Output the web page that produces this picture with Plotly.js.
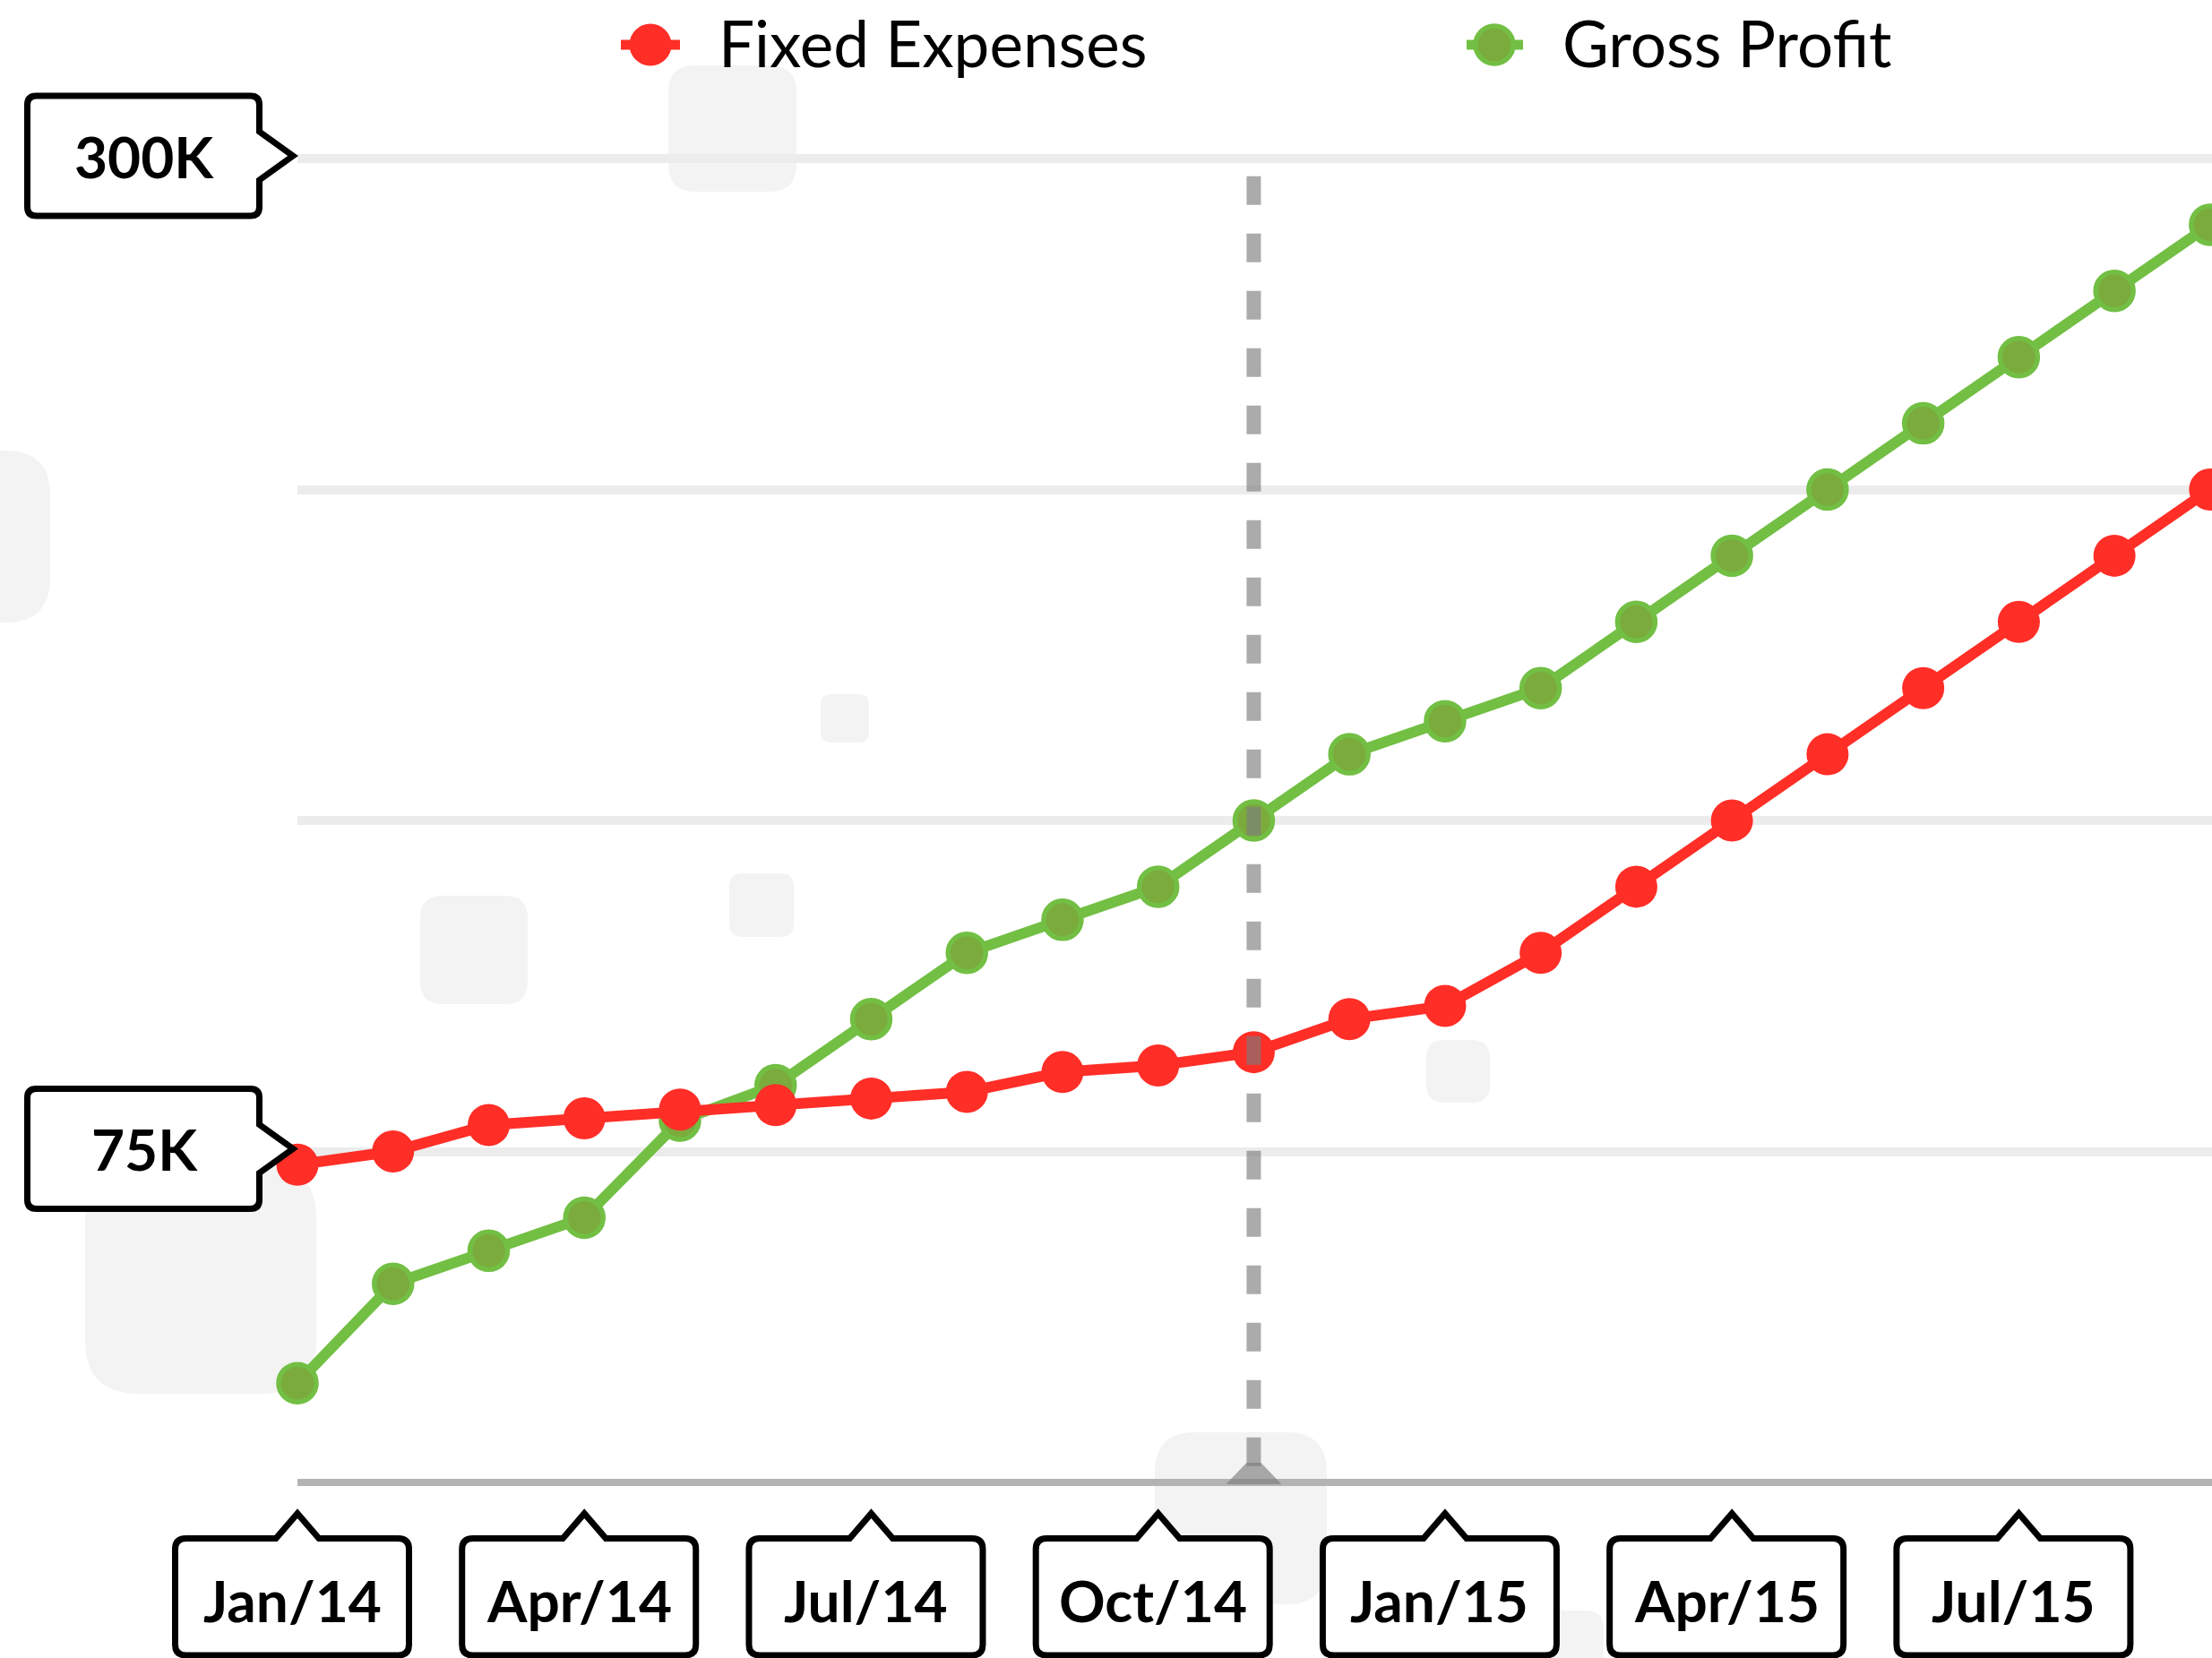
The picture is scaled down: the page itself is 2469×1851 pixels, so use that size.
<!DOCTYPE html>
<html>
<head>
<meta charset="utf-8">
<script src="https://cdn.plot.ly/plotly-3.0.1.min.js"></script>
<style>
html, body { margin: 0; padding: 0; background: #ffffff; }
#chart { width: 2469px; height: 1851px; }
</style>
</head>
<body>
<div id="chart"></div>
<script>
// ---------------- DATA ----------------
const months = ['Jan/14','Feb/14','Mar/14','Apr/14','May/14','Jun/14','Jul/14','Aug/14','Sep/14','Oct/14','Nov/14','Dec/14',
                'Jan/15','Feb/15','Mar/15','Apr/15','May/15','Jun/15','Jul/15','Aug/15','Sep/15'];
const fixedExpenses = [72, 75, 81, 82.5, 84.5, 85.5, 87, 88.5, 93, 94.5, 97.5, 105, 108, 120, 135, 150, 165, 180, 195, 210, 225];
const grossProfit   = [22.5, 45, 52.5, 60, 82, 90, 105, 120, 127.5, 135, 150, 165, 172.5, 180, 195, 210, 225, 240, 255, 270, 285];
const seriesNames = ['Fixed Expenses', 'Gross Profit'];
const xTickLabels = ['Jan/14','Apr/14','Jul/14','Oct/14','Jan/15','Apr/15','Jul/15'];
const yGridValues = [75, 150, 225, 300];
const yLabelValues = [300, 75];
const yLabelTexts = ['300K', '75K'];
const markerMonth = 'Nov/14';
const markerTop = 296;

// ---------------- GEOMETRY / STYLE ----------------
const FW = 2469, FH = 1851;
const M = { l: 332, r: 0, t: 167, b: 196 };
const PW = FW - M.l - M.r, PH = FH - M.t - M.b;
const B = FH - M.b;                 // plot bottom in page px
const XR = [0, 20.02];
const YR = [0, 302.03];
const RED = '#ff2e27', GREEN = '#72bf44', GREEN_FILL = '#7bab3d';
const FONT = 'Lato, "Open Sans", sans-serif';
const Y_CALLOUT_SHIFT = 3;          // px, callouts sit slightly above their gridline

const xPaper = v => (v - XR[0]) / (XR[1] - XR[0]);
const yPaper = v => (v - YR[0]) / (YR[1] - YR[0]);
const pageXP = X => (X - M.l) / PW;
const pageYP = Y => (B - Y) / PH;

// local offsets (y downward) -> plotly pixel-sizemode (y upward)
function P(x, y) { return (+x).toFixed(1) + ',' + (-y).toFixed(1); }
function roundRectPath(x0, y0, x1, y1, r) {
  return 'M' + P(x0 + r, y0) + 'L' + P(x1 - r, y0) + 'Q' + P(x1, y0) + ' ' + P(x1, y0 + r) +
    'L' + P(x1, y1 - r) + 'Q' + P(x1, y1) + ' ' + P(x1 - r, y1) +
    'L' + P(x0 + r, y1) + 'Q' + P(x0, y1) + ' ' + P(x0, y1 - r) +
    'L' + P(x0, y0 + r) + 'Q' + P(x0, y0) + ' ' + P(x0 + r, y0) + 'Z';
}
function yCalloutPath() {
  const s = Y_CALLOUT_SHIFT;
  const x0 = -301.5, x1 = -42.5, y0 = -67 - s, y1 = 67 - s, r = 10, ph = 27, tip = -5;
  return 'M' + P(x0 + r, y0) + 'L' + P(x1 - r, y0) + 'Q' + P(x1, y0) + ' ' + P(x1, y0 + r) +
    'L' + P(x1, -ph - s) + 'L' + P(tip, -s) + 'L' + P(x1, ph - s) +
    'L' + P(x1, y1 - r) + 'Q' + P(x1, y1) + ' ' + P(x1 - r, y1) +
    'L' + P(x0 + r, y1) + 'Q' + P(x0, y1) + ' ' + P(x0, y1 - r) +
    'L' + P(x0, y0 + r) + 'Q' + P(x0, y0) + ' ' + P(x0 + r, y0) + 'Z';
}
function xCalloutPath() {
  const x0 = -136.5, x1 = 124.5, y0 = 62.5, y1 = 193, r = 12, pw = 24, tip = 34.6;
  return 'M' + P(x0 + r, y0) + 'L' + P(-pw, y0) + 'L' + P(0, tip) + 'L' + P(pw, y0) +
    'L' + P(x1 - r, y0) + 'Q' + P(x1, y0) + ' ' + P(x1, y0 + r) +
    'L' + P(x1, y1 - r) + 'Q' + P(x1, y1) + ' ' + P(x1 - r, y1) +
    'L' + P(x0 + r, y1) + 'Q' + P(x0, y1) + ' ' + P(x0, y1 - r) +
    'L' + P(x0, y0 + r) + 'Q' + P(x0, y0) + ' ' + P(x0 + r, y0) + 'Z';
}
const pagePx = { xref: 'paper', yref: 'paper', xsizemode: 'pixel', ysizemode: 'pixel', xanchor: 0, yanchor: 0 };

// decorative background tiles (page px)
const decor = [
  [746, 73, 889, 214, 30], [-60, 503, 56, 695, 50], [916, 775, 970, 829, 12], [814, 975, 886, 1046, 15],
  [469, 1000, 589, 1121, 25], [95, 1300, 353, 1556, 60], [1592, 1161, 1663, 1231, 20],
  [1289, 1599, 1481, 1791, 45], [1690, 1798, 1790, 1900, 20]
];

const shapes = [];
decor.forEach(d => shapes.push(Object.assign({}, pagePx, {
  type: 'path', layer: 'below', path: roundRectPath(d[0] - M.l, d[1] - B, d[2] - M.l, d[3] - B, d[4]),
  fillcolor: '#f3f3f3', line: { width: 0 }
})));
// base axis line
shapes.push({ type: 'line', layer: 'below', xref: 'paper', yref: 'paper', x0: 0, x1: 1, y0: 0, y1: 0,
  line: { color: '#b3b3b3', width: 8 } });
// marker (dashed) line
const DASH = 'rgba(124,124,124,0.64)';
shapes.push({ type: 'line', layer: 'above', xref: 'x', yref: 'y', x0: markerMonth, x1: markerMonth,
  y0: markerTop, y1: 0, line: { color: DASH, width: 16, dash: '32px,32px' } });
shapes.push({ type: 'path', layer: 'above', xref: 'x', yref: 'paper', xsizemode: 'pixel', ysizemode: 'pixel',
  xanchor: markerMonth, yanchor: 0,
  path: 'M' + P(-8, -22) + 'L' + P(8, -22) + 'L' + P(31, 2) + 'L' + P(-31, 2) + 'Z',
  fillcolor: DASH, line: { width: 0 } });
// y label callouts
yLabelValues.forEach(v => shapes.push({ type: 'path', layer: 'above', xref: 'paper', yref: 'paper',
  xsizemode: 'pixel', ysizemode: 'pixel', xanchor: 0, yanchor: yPaper(v), path: yCalloutPath(),
  fillcolor: '#ffffff', line: { color: '#000000', width: 7 } }));
// x label callouts
xTickLabels.forEach(lab => shapes.push({ type: 'path', layer: 'above', xref: 'paper', yref: 'paper',
  xsizemode: 'pixel', ysizemode: 'pixel', xanchor: xPaper(months.indexOf(lab)), yanchor: 0, path: xCalloutPath(),
  fillcolor: '#ffffff', line: { color: '#000000', width: 7 } }));
// legend symbols
const legendItems = [
  { name: seriesNames[0], lx0: 693, lx1: 759, cx: 726, d: 47, fill: RED, line: RED, lw: 0, tx: 803 },
  { name: seriesNames[1], lx0: 1637, lx1: 1700, cx: 1668, d: 42, fill: GREEN_FILL, line: GREEN, lw: 5.5, tx: 1745 }
];
const LEG_Y = 50;
legendItems.forEach(it => {
  shapes.push(Object.assign({}, pagePx, { type: 'line', layer: 'above', x0: it.lx0 - M.l, x1: it.lx1 - M.l,
    y0: B - LEG_Y, y1: B - LEG_Y, line: { color: it.lw ? it.line : it.fill, width: 11 } }));
  shapes.push(Object.assign({}, pagePx, { type: 'circle', layer: 'above',
    x0: it.cx - it.d / 2 - M.l, x1: it.cx + it.d / 2 - M.l, y0: B - LEG_Y - it.d / 2, y1: B - LEG_Y + it.d / 2,
    fillcolor: it.fill, line: { color: it.line, width: it.lw } }));
});

// ---------------- ANNOTATIONS ----------------
const annotations = [];
legendItems.forEach(it => annotations.push({ xref: 'paper', yref: 'paper', x: pageXP(it.tx - 3), y: pageYP(LEG_Y - 2),
  xanchor: 'left', yanchor: 'middle', showarrow: false, text: it.name,
  font: { family: FONT, size: 71, color: '#000000' } }));
yLabelValues.forEach((v, i) => annotations.push({ xref: 'paper', yref: 'y', x: pageXP(161), y: v,
  yshift: Y_CALLOUT_SHIFT, xanchor: 'center', yanchor: 'middle', showarrow: false, text: yLabelTexts[i],
  font: { family: FONT, size: 64, weight: 700, color: '#000000' } }));
xTickLabels.forEach(lab => annotations.push({ xref: 'x', yref: 'paper', x: lab, xshift: -6, y: pageYP(1786),
  xanchor: 'center', yanchor: 'middle', showarrow: false, text: lab,
  font: { family: FONT, size: 64, weight: 700, color: '#000000' } }));

// ---------------- TRACES ----------------
const traces = [
  { type: 'scatter', mode: 'lines+markers', name: seriesNames[1], x: months, y: grossProfit, cliponaxis: false,
    line: { color: GREEN, width: 12 }, marker: { size: 42, color: GREEN_FILL, line: { color: GREEN, width: 5.5 } },
    hoverinfo: 'skip' },
  { type: 'scatter', mode: 'lines+markers', name: seriesNames[0], x: months, y: fixedExpenses, cliponaxis: false,
    line: { color: RED, width: 12 }, marker: { size: 47, color: RED, line: { width: 0 } },
    hoverinfo: 'skip' }
];

const layout = {
  width: FW, height: FH,
  margin: M,
  paper_bgcolor: '#ffffff', plot_bgcolor: 'rgba(0,0,0,0)',
  showlegend: false,
  xaxis: { type: 'category', range: XR, showgrid: false, zeroline: false, showline: false,
    showticklabels: false, ticks: '', fixedrange: true },
  yaxis: { range: YR, tickmode: 'array', tickvals: yGridValues, showgrid: true, gridcolor: '#ececec', gridwidth: 10,
    zeroline: false, showline: false, showticklabels: false, ticks: '', fixedrange: true },
  shapes: shapes,
  annotations: annotations,
  font: { family: FONT }
};

Plotly.newPlot('chart', traces, layout, { displayModeBar: false, staticPlot: true });
</script>
</body>
</html>
